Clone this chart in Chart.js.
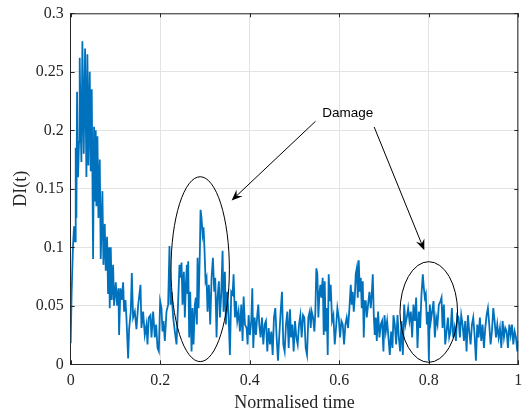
<!DOCTYPE html>
<html><head><meta charset="utf-8">
<script src="https://cdn.jsdelivr.net/npm/chart.js@4/dist/chart.umd.min.js"></script>
<style>html,body{margin:0;padding:0;background:#fff}#wrap{width:522px;height:417px;position:relative}</style>
</head><body><div id="wrap"><canvas id="c" width="522" height="417"></canvas></div>
<script>
// Normalised time samples
const normTime = [
  0, 0.002, 0.005, 0.0075, 0.0097, 0.0112, 0.0127, 0.0142, 0.0164, 0.0186,
  0.0201, 0.0224, 0.0239, 0.0261, 0.0291, 0.0321, 0.0351, 0.0373, 0.0395, 0.0425,
  0.0447, 0.047, 0.05, 0.0522, 0.0544, 0.0559, 0.0574, 0.0597, 0.0619, 0.0649,
  0.0671, 0.0708, 0.0731, 0.0761, 0.0783, 0.0813, 0.0835, 0.0858, 0.0872, 0.0895,
  0.0917, 0.0947, 0.0969, 0.1007, 0.1037, 0.1066, 0.1081, 0.1111, 0.1141, 0.1171,
  0.1193, 0.1223, 0.1245, 0.1283, 0.1305, 0.1342, 0.1365, 0.1394, 0.1432, 0.1469,
  0.1506, 0.1559, 0.1581, 0.1618, 0.1655, 0.1693, 0.1715, 0.1745, 0.1782, 0.1805,
  0.1842, 0.1879, 0.1909, 0.1939, 0.1969, 0.1998, 0.2028, 0.2051, 0.2073, 0.2103,
  0.214, 0.2177, 0.2207, 0.223, 0.2252, 0.2289, 0.2327, 0.2364, 0.2401, 0.2431,
  0.2453, 0.2476, 0.2498, 0.2528, 0.255, 0.2573, 0.2595, 0.261, 0.2625, 0.2647,
  0.267, 0.27, 0.2722, 0.2744, 0.2774, 0.2796, 0.2819, 0.2834, 0.2856, 0.2886,
  0.2901, 0.2923, 0.2946, 0.2968, 0.299, 0.3013, 0.3035, 0.3057, 0.3087, 0.3117,
  0.3147, 0.3177, 0.3207, 0.3229, 0.3259, 0.3281, 0.3311, 0.3333, 0.3363, 0.3393,
  0.3415, 0.3445, 0.3468, 0.3497, 0.3527, 0.3557, 0.3587, 0.3617, 0.3639, 0.3669,
  0.3691, 0.3721, 0.3751, 0.3781, 0.3811, 0.384, 0.3863, 0.3893, 0.393, 0.3952,
  0.3975, 0.4004, 0.4034, 0.4057, 0.4079, 0.4109, 0.4139, 0.4168, 0.4191, 0.4213,
  0.4243, 0.4273, 0.4303, 0.4333, 0.4362, 0.4392, 0.4422, 0.4452, 0.4482, 0.4512,
  0.4541, 0.4571, 0.4601, 0.4631, 0.4661, 0.4691, 0.472, 0.475, 0.478, 0.481,
  0.484, 0.487, 0.4899, 0.4922, 0.4952, 0.4981, 0.5011, 0.5041, 0.5071, 0.5101,
  0.5131, 0.516, 0.519, 0.522, 0.525, 0.528, 0.5309, 0.5339, 0.5362, 0.5384,
  0.5414, 0.5444, 0.5466, 0.5488, 0.5511, 0.5533, 0.5556, 0.5578, 0.56, 0.563,
  0.5653, 0.5675, 0.5697, 0.572, 0.5742, 0.5764, 0.5787, 0.5809, 0.5839, 0.5869,
  0.5899, 0.5928, 0.5958, 0.5988, 0.6018, 0.6048, 0.6078, 0.6107, 0.6137, 0.6167,
  0.6197, 0.6227, 0.6257, 0.6279, 0.6301, 0.6324, 0.6346, 0.6368, 0.6391, 0.6413,
  0.6435, 0.6458, 0.648, 0.6503, 0.6525, 0.6547, 0.657, 0.6592, 0.6615, 0.6644,
  0.6674, 0.6704, 0.6726, 0.6749, 0.6771, 0.6793, 0.6816, 0.6838, 0.6868, 0.6898,
  0.6928, 0.6957, 0.6987, 0.701, 0.704, 0.7069, 0.7099, 0.7129, 0.7159, 0.7189,
  0.7211, 0.7241, 0.7271, 0.7301, 0.733, 0.736, 0.739, 0.742, 0.745, 0.7479,
  0.7509, 0.7539, 0.7569, 0.7599, 0.7629, 0.7658, 0.7688, 0.7718, 0.7748, 0.7778,
  0.7808, 0.7837, 0.7867, 0.789, 0.7912, 0.7934, 0.7957, 0.7979, 0.8002, 0.8024,
  0.8046, 0.8076, 0.8106, 0.8136, 0.8166, 0.8195, 0.8225, 0.8262, 0.8285, 0.8307,
  0.8337, 0.8367, 0.8397, 0.8427, 0.8456, 0.8486, 0.8516, 0.8546, 0.8576, 0.8606,
  0.8635, 0.8665, 0.8695, 0.8725, 0.8755, 0.8785, 0.8814, 0.8844, 0.8874, 0.8904,
  0.8934, 0.8964, 0.8993, 0.9023, 0.9053, 0.9083, 0.9113, 0.9142, 0.9172, 0.9202,
  0.9232, 0.9262, 0.9292, 0.9321, 0.9351, 0.9381, 0.9411, 0.9441, 0.9471, 0.9501,
  0.953, 0.956, 0.959, 0.962, 0.965, 0.968, 0.9709, 0.9739, 0.9769, 0.9799,
  0.9829, 0.9859, 0.9888, 0.9918, 0.9948, 0.9978, 1
];
// Damage index DI(t)
const damageIndex = [
  0.018, 0.06, 0.1, 0.118, 0.105, 0.185, 0.125, 0.233, 0.16, 0.19,
  0.262, 0.2, 0.173, 0.276, 0.18, 0.27, 0.16, 0.265, 0.17, 0.25,
  0.165, 0.235, 0.09, 0.203, 0.14, 0.2, 0.135, 0.195, 0.125, 0.175,
  0.09, 0.148, 0.085, 0.12, 0.08, 0.109, 0.06, 0.1, 0.048, 0.1,
  0.055, 0.085, 0.05, 0.07, 0.05, 0.065, 0.025, 0.065, 0.055, 0.07,
  0.045, 0.055, 0.04, 0.005, 0.03, 0.045, 0.078, 0.04, 0.045, 0.03,
  0.05, 0.068, 0.031, 0.045, 0.025, 0.034, 0.017, 0.04, 0.042, 0.023,
  0.045, 0.023, 0.034, 0.014, 0.011, 0.054, 0.048, 0.028, 0.037, 0.02,
  0.045, 0.051, 0.101, 0.051, 0.062, 0.04, 0.028, 0.017, 0.054, 0.085,
  0.074, 0.087, 0.051, 0.079, 0.04, 0.068, 0.085, 0.06, 0.088, 0.023,
  0.062, 0.011, 0.048, 0.017, 0.051, 0.057, 0.034, 0.091, 0.048, 0.097,
  0.132, 0.125, 0.111, 0.117, 0.097, 0.071, 0.074, 0.045, 0.068, 0.034,
  0.074, 0.091, 0.062, 0.074, 0.023, 0.057, 0.071, 0.04, 0.06, 0.097,
  0.045, 0.079, 0.034, 0.062, 0.042, 0.008, 0.062, 0.06, 0.077, 0.04,
  0.054, 0.037, 0.045, 0.028, 0.051, 0.02, 0.058, 0.034, 0.031, 0.017,
  0.042, 0.025, 0.037, 0.065, 0.014, 0.04, 0.025, 0.042, 0.051, 0.034,
  0.023, 0.04, 0.017, 0.034, 0.037, 0.011, 0.031, 0.017, 0.028, 0.008,
  0.04, 0.048, 0.023, 0.003, 0.025, 0.045, 0.062, 0.017, 0.011, 0.034,
  0.045, 0.014, 0.047, 0.023, 0.034, 0.011, 0.037, 0.023, 0.017, 0.034,
  0.042, 0.023, 0.042, 0.04, 0.014, 0.008, 0.04, 0.045, 0.031, 0.045,
  0.04, 0.028, 0.045, 0.082, 0.077, 0.04, 0.06, 0.068, 0.057, 0.074,
  0.025, 0.071, 0.028, 0.048, 0.008, 0.077, 0.054, 0.068, 0.037, 0.042,
  0.017, 0.031, 0.048, 0.04, 0.023, 0.037, 0.034, 0.017, 0.034, 0.04,
  0.031, 0.048, 0.068, 0.051, 0.062, 0.045, 0.057, 0.077, 0.082, 0.057,
  0.089, 0.062, 0.074, 0.048, 0.071, 0.023, 0.054, 0.054, 0.04, 0.051,
  0.062, 0.048, 0.06, 0.077, 0.042, 0.025, 0.04, 0.02, 0.045, 0.023,
  0.034, 0.037, 0.011, 0.042, 0.028, 0.037, 0.023, 0.008, 0.028, 0.014,
  0.042, 0.034, 0.017, 0.042, 0.023, 0.011, 0.037, 0.008, 0.051, 0.034,
  0.04, 0.048, 0.037, 0.045, 0.023, 0.051, 0.037, 0.057, 0.014, 0.045,
  0.031, 0.06, 0.077, 0.065, 0.057, 0.06, 0.034, 0.045, 0.003, 0.051,
  0.037, 0.045, 0.054, 0.023, 0.04, 0.034, 0.051, 0.054, 0.057, 0.031,
  0.051, 0.017, 0.028, 0.04, 0.023, 0.028, 0.048, 0.023, 0.031, 0.02,
  0.042, 0.04, 0.023, 0.042, 0.034, 0.02, 0.037, 0.011, 0.042, 0.028,
  0.017, 0.034, 0.04, 0.025, 0.003, 0.034, 0.023, 0.04, 0.02, 0.034,
  0.014, 0.031, 0.042, 0.048, 0.034, 0.017, 0.028, 0.048, 0.037, 0.023,
  0.034, 0.023, 0.031, 0.014, 0.037, 0.023, 0.031, 0.028, 0.014, 0.034,
  0.025, 0.034, 0.017, 0.028, 0.023, 0.011, 0.02
];
const xTickValues = [0, 0.2, 0.4, 0.6, 0.8, 1];
const xTickLabels = ['0', '0.2', '0.4', '0.6', '0.8', '1'];
const yTickValues = [0, 0.05, 0.1, 0.15, 0.2, 0.25, 0.3];
const yTickLabels = ['0', '0.05', '0.1', '0.15', '0.2', '0.25', '0.3'];
const xTitle = 'Normalised time';
const yTitle = 'DI(t)';
// Annotation (in data units)
const annotationLabel = 'Damage';
const annotationLabelAt = [0.619, 0.2145];
const arrowFrom = [[0.547, 0.2077], [0.678, 0.2028]];
const arrowTo = [[0.3595, 0.140], [0.790, 0.0974]];
const ellipseCentre = [[0.2893, 0.0813], [0.800, 0.0447]];
const ellipseRadius = [[0.0652, 0.079], [0.0643, 0.043]];

const axisColor = '#262626';
const serif = "'Liberation Serif', 'Times New Roman', serif";

const points = normTime.map((t, i) => ({x: t, y: damageIndex[i]}));

const decor = {
  id: 'decor',
  afterDraw(chart) {
    const {ctx, chartArea: a, scales: {x, y}} = chart;
    ctx.save();
    ctx.strokeStyle = axisColor;
    ctx.lineWidth = 1;
    ctx.beginPath();
    ctx.moveTo(a.left, a.top + 0.5); ctx.lineTo(a.right, a.top + 0.5);
    ctx.moveTo(a.right - 0.5, a.top); ctx.lineTo(a.right - 0.5, a.bottom);
    ctx.stroke();
    const tl = 4;
    ctx.beginPath();
    xTickValues.forEach(v => {
      const px = Math.round(x.getPixelForValue(v)) + 0.5;
      ctx.moveTo(px, a.bottom); ctx.lineTo(px, a.bottom - tl);
      ctx.moveTo(px, a.top); ctx.lineTo(px, a.top + tl);
    });
    yTickValues.forEach(v => {
      const py = Math.round(y.getPixelForValue(v)) + 0.5;
      ctx.moveTo(a.left, py); ctx.lineTo(a.left + tl, py);
      ctx.moveTo(a.right, py); ctx.lineTo(a.right - tl, py);
    });
    ctx.stroke();
    ctx.strokeStyle = '#000';
    ctx.lineWidth = 1;
    ellipseCentre.forEach((c, i) => {
      const cx = x.getPixelForValue(c[0]), cy = y.getPixelForValue(c[1]);
      const rx = x.getPixelForValue(c[0] + ellipseRadius[i][0]) - cx;
      const ry = cy - y.getPixelForValue(c[1] + ellipseRadius[i][1]);
      ctx.beginPath();
      ctx.ellipse(cx, cy, rx, ry, 0, 0, Math.PI * 2);
      ctx.stroke();
    });
    ctx.fillStyle = '#000';
    arrowFrom.forEach((s, i) => {
      const e = arrowTo[i];
      const sx = x.getPixelForValue(s[0]), sy = y.getPixelForValue(s[1]);
      const ex = x.getPixelForValue(e[0]), ey = y.getPixelForValue(e[1]);
      const dx = ex - sx, dy = ey - sy, len = Math.hypot(dx, dy);
      const ux = dx / len, uy = dy / len, nx = -uy, ny = ux;
      const L = 11, W = 9, notch = 7;
      const bx = ex - ux * L, by = ey - uy * L;
      const mx = ex - ux * notch, my = ey - uy * notch;
      ctx.beginPath();
      ctx.moveTo(sx, sy); ctx.lineTo(mx, my);
      ctx.stroke();
      ctx.beginPath();
      ctx.moveTo(ex, ey);
      ctx.lineTo(bx + nx * W / 2, by + ny * W / 2);
      ctx.lineTo(mx, my);
      ctx.lineTo(bx - nx * W / 2, by - ny * W / 2);
      ctx.closePath();
      ctx.fill();
    });
    ctx.font = "13.5px 'Liberation Sans', Arial, sans-serif";
    ctx.textAlign = 'center';
    ctx.textBaseline = 'middle';
    ctx.fillStyle = '#000';
    ctx.fillText(annotationLabel, x.getPixelForValue(annotationLabelAt[0]), y.getPixelForValue(annotationLabelAt[1]));
    ctx.restore();
  }
};

new Chart(document.getElementById('c'), {
  type: 'line',
  data: {
    datasets: [{
      data: points,
      borderColor: '#0072BD',
      borderWidth: 1.8,
      pointRadius: 0,
      tension: 0,
      fill: false
    }]
  },
  options: {
    responsive: false,
    animation: false,
    devicePixelRatio: 1,
    layout: {padding: {left: 0, right: 3.7, top: 13.3, bottom: 0}},
    plugins: {legend: {display: false}, tooltip: {enabled: false}},
    scales: {
      x: {
        type: 'linear', min: 0, max: 1,
        afterBuildTicks: s => { s.ticks = xTickValues.map(v => ({value: v})); },
        afterFit: s => { s.height = 52.7; s.paddingLeft = 0; s.paddingRight = 0; s.paddingTop = 0; s.paddingBottom = 0; },
        ticks: {
          callback: (v, i) => xTickLabels[i],
          font: {family: serif, size: 16}, color: axisColor,
          padding: 7, maxRotation: 0, autoSkip: false
        },
        grid: {color: '#e3e3e3', drawTicks: false, lineWidth: 1},
        border: {color: axisColor, width: 1},
        title: {display: true, text: xTitle, font: {family: serif, size: 18}, color: axisColor, padding: {top: 0, bottom: 3}}
      },
      y: {
        type: 'linear', min: 0, max: 0.3,
        afterBuildTicks: s => { s.ticks = yTickValues.map(v => ({value: v})); },
        afterFit: s => { s.width = 70.7; s.paddingLeft = 0; s.paddingRight = 0; s.paddingTop = 0; s.paddingBottom = 0; },
        ticks: {
          callback: (v, i) => yTickLabels[i],
          font: {family: serif, size: 16}, color: axisColor,
          padding: 7, autoSkip: false
        },
        grid: {color: '#e3e3e3', drawTicks: false, lineWidth: 1},
        border: {color: axisColor, width: 1},
        title: {display: true, text: yTitle, font: {family: serif, size: 18}, color: axisColor, padding: {top: 10, bottom: 0}}
      }
    }
  },
  plugins: [decor]
});
</script>
</body></html>
